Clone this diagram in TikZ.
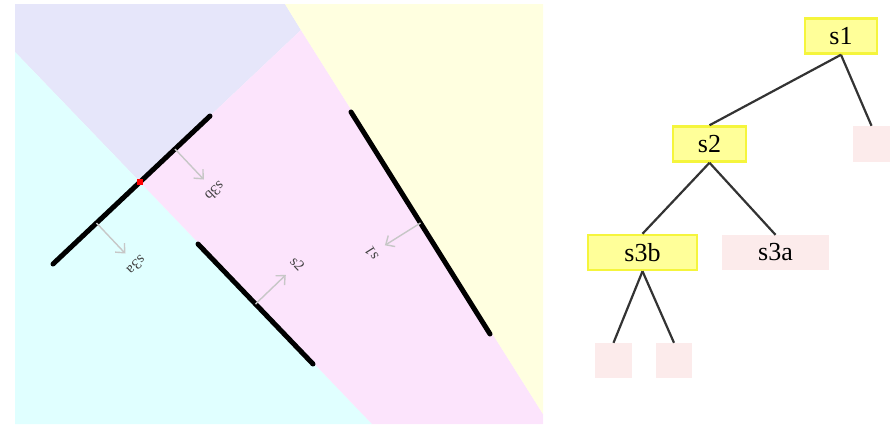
\documentclass[tikz,border=0pt]{standalone}
\usepackage{fontspec}
\setmainfont{Liberation Serif}
\usetikzlibrary{arrows.meta}
\definecolor{regionA}{HTML}{E6E6FA}
\definecolor{regionB}{HTML}{E0FFFF}
\definecolor{regionC}{HTML}{FCE4FC}
\definecolor{regionD}{HTML}{FFFFE0}
\definecolor{treefill}{HTML}{FFFF99}
\definecolor{treeline}{HTML}{F5F53C}
\definecolor{leaffill}{HTML}{FCEBEB}
\begin{document}
\begin{tikzpicture}[x=1pt, y=-1pt,
    wall/.style={line width=5pt, line cap=round},
    normal/.style={-{Straight Barb[length=7pt,width=13pt]}, draw=black!22, line width=1.4pt},
    wallname/.style={font=\fontsize{15}{16}\selectfont, text=black!75, inner sep=0pt},
    split/.style={rectangle, draw=treeline, fill=treefill, line width=2.5pt, inner sep=0pt, minimum height=35pt, font=\fontsize{26}{28}\selectfont},
    leaf/.style={rectangle, fill=leaffill, inner sep=0pt, minimum width=37pt, minimum height=36pt, font=\fontsize{26}{28}\selectfont},
    edge/.style={draw=black!80, line width=2.2pt}]
    \useasboundingbox (0,0) rectangle (896,424);

    \fill[regionA] (15,4) -- (285,4) -- (301,30) -- (140,182) -- (15,52) -- cycle;
    \fill[regionB] (15,52) -- (140,182) -- (372,424) -- (15,424) -- cycle;
    \fill[regionC] (140,182) -- (301,30) -- (543,414) -- (543,424) -- (372,424) -- cycle;
    \fill[regionD] (285,4) -- (543,4) -- (543,414) -- (301,30) -- cycle;

    \coordinate (w1a) at (351,112);
    \coordinate (w1b) at (490,334);
    \coordinate (w2a) at (198,244);
    \coordinate (w2b) at (313,364);
    \coordinate (w3a) at (53,264);
    \coordinate (cut) at (140,182);
    \coordinate (w3b) at (210,116);

    \draw[wall] (w1a) -- (w1b);
    \draw[wall] (w2a) -- (w2b);
    \draw[wall] (w3a) -- (cut);
    \draw[wall] (cut) -- (w3b);
    \fill[red] (137,179) rectangle (143,185);

    \coordinate (m1) at (420.5,223);
    \coordinate (t1) at (384.9,245.3);
    \coordinate (m2) at (255.5,304);
    \coordinate (t2) at (285.8,274.9);
    \coordinate (m3a) at (96.5,223);
    \coordinate (t3a) at (125.3,253.5);
    \coordinate (m3b) at (175,149);
    \coordinate (t3b) at (203.8,179.5);

    \draw[normal] (m1) -- (t1);
    \draw[normal] (m2) -- (t2);
    \draw[normal] (m3a) -- (t3a);
    \draw[normal] (m3b) -- (t3b);

    \node[wallname, rotate=122] (l1) at (371.5,253.6) {s1};
    \node[wallname, rotate=-46.2] (l2) at (297.5,263.8) {s2};
    \node[wallname, rotate=223.3] (l3a) at (136.5,265.4) {s3a};
    \node[wallname, rotate=223.3] (l3b) at (215,191.4) {s3b};

    \node[split, minimum width=72pt] (s1) at (841,36) {s1};
    \node[leaf] (e1) at (871.5,144) {};
    \node[split, minimum width=73pt] (s2) at (709.5,144) {s2};
    \node[split, minimum width=109pt] (s3b) at (642.5,252.5) {s3b};
    \node[leaf, minimum width=107pt, minimum height=35pt] (s3a) at (775.5,252.5) {s3a};
    \node[leaf, minimum height=35pt] (e2) at (613.5,360.5) {};
    \node[leaf, minimum width=36pt, minimum height=35pt] (e3) at (674,360.5) {};

    \draw[edge] (s1.south) -- (s2.north);
    \draw[edge] (s1.south) -- (e1.north);
    \draw[edge] (s2.south) -- (s3b.north);
    \draw[edge] (s2.south) -- (s3a.north);
    \draw[edge] (s3b.south) -- (e2.north);
    \draw[edge] (s3b.south) -- (e3.north);
\end{tikzpicture}
\end{document}
